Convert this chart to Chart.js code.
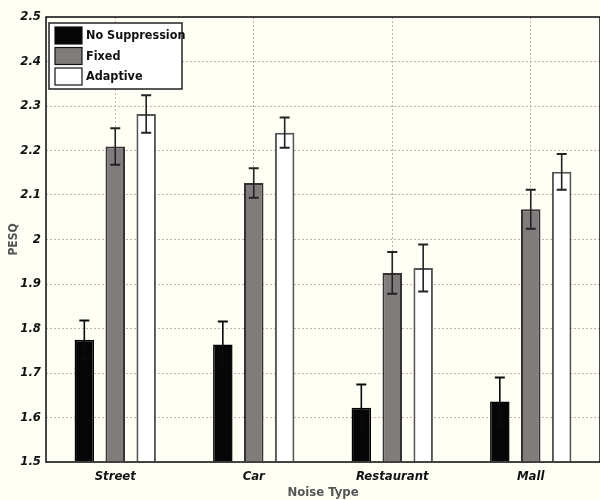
<!DOCTYPE html>
<html>
<head>
<meta charset="utf-8">
<script src="https://cdn.jsdelivr.net/npm/chart.js@4.4.0/dist/chart.umd.min.js"></script>
<style>
html, body { margin: 0; padding: 0; background: #fffff6; }
#wrap { width: 600px; height: 500px; }
</style>
</head>
<body>
<div id="wrap"><canvas id="myChart" width="600" height="500"></canvas></div>
<script>
// data
const categories = ["Street", "Car", "Restaurant", "Mall"];
const seriesNames = ["No Suppression", "Fixed", "Adaptive"];
const noSuppression = [1.775, 1.764, 1.622, 1.636];
const noSuppressionErr = [0.043, 0.052, 0.052, 0.054];
const fixed = [2.209, 2.127, 1.925, 2.068];
const fixedErr = [0.041, 0.033, 0.047, 0.044];
const adaptive = [2.282, 2.240, 1.936, 2.152];
const adaptiveErr = [0.042, 0.034, 0.053, 0.040];
const yMin = 1.5;
const yMax = 2.5;
const yStep = 0.1;

const FONT = '"Liberation Sans Narrow", "DejaVu Sans Condensed", "Liberation Sans", Arial, sans-serif';

// cream page + plot background
const bgPlugin = {
  id: "bg",
  beforeDraw(chart) {
    const ctx = chart.ctx;
    ctx.save();
    ctx.fillStyle = "#fffff6";
    ctx.fillRect(0, 0, chart.width, chart.height);
    ctx.restore();
  }
};

// error bars drawn from the err arrays through the y scale
const errorBarPlugin = {
  id: "errorBars",
  afterDatasetsDraw(chart) {
    const ctx = chart.ctx;
    const yScale = chart.scales.y;
    chart.data.datasets.forEach((ds, i) => {
      const meta = chart.getDatasetMeta(i);
      meta.data.forEach((bar, j) => {
        const v = ds.data[j];
        const e = ds.errors[j];
        const top = yScale.getPixelForValue(v + e);
        const bot = yScale.getPixelForValue(v - e);
        const x = bar.x;
        const hw = 5;
        ctx.save();
        ctx.strokeStyle = i === 0 ? "#0a0a0a" : "#222";
        ctx.lineWidth = 1.6;
        ctx.beginPath();
        ctx.moveTo(x, top);
        ctx.lineTo(x, bot);
        ctx.stroke();
        ctx.lineWidth = 2;
        ctx.beginPath();
        ctx.moveTo(x - hw, top);
        ctx.lineTo(x + hw, top);
        ctx.moveTo(x - hw, bot);
        ctx.lineTo(x + hw, bot);
        ctx.stroke();
        ctx.restore();
      });
    });
  }
};

// axes box and boxed legend like the matlab figure
const boxLegendPlugin = {
  id: "boxLegend",
  afterDraw(chart) {
    const ctx = chart.ctx;
    const a = chart.chartArea;
    ctx.save();
    ctx.strokeStyle = "#1a1a1a";
    ctx.lineWidth = 1.6;
    ctx.strokeRect(a.left, a.top, a.right - a.left, a.bottom - a.top);

    // legend
    const lx = a.left + 3, ly = a.top + 6, lw = 133, lh = 66;
    ctx.fillStyle = "#ffffff";
    ctx.fillRect(lx, ly, lw, lh);
    ctx.strokeStyle = "#222";
    ctx.lineWidth = 1.5;
    ctx.strokeRect(lx, ly, lw, lh);
    chart.data.datasets.forEach((ds, i) => {
      const ry = ly + 4 + i * 20.5;
      ctx.fillStyle = ds.backgroundColor;
      ctx.fillRect(lx + 6, ry, 27, 17);
      ctx.strokeStyle = "#111";
      ctx.lineWidth = 1.2;
      ctx.strokeRect(lx + 6, ry, 27, 17);
      ctx.fillStyle = "#111";
      ctx.font = "bold 12.5px " + FONT;
      ctx.textBaseline = "middle";
      ctx.textAlign = "left";
      ctx.fillText(ds.label, lx + 37, ry + 9);
    });
    ctx.restore();
  }
};

const ctx = document.getElementById("myChart").getContext("2d");
const chart = new Chart(ctx, {
  type: "bar",
  data: {
    labels: categories,
    datasets: [
      {
        label: seriesNames[0],
        data: noSuppression,
        errors: noSuppressionErr,
        backgroundColor: "#060606",
        borderColor: "#000000",
        borderWidth: 1.5
      },
      {
        label: seriesNames[1],
        data: fixed,
        errors: fixedErr,
        backgroundColor: "#807c7c",
        borderColor: "#333333",
        borderWidth: 2
      },
      {
        label: seriesNames[2],
        data: adaptive,
        errors: adaptiveErr,
        backgroundColor: "#ffffff",
        borderColor: "#555555",
        borderWidth: 2
      }
    ]
  },
  options: {
    responsive: false,
    animation: false,
    devicePixelRatio: 1,
    layout: { padding: { top: 17, right: 0, left: 0, bottom: 0 } },
    datasets: {
      bar: {
        categoryPercentage: 0.67,
        barPercentage: 0.63,
        base: yMin,
        borderSkipped: "bottom"
      }
    },
    plugins: {
      legend: { display: false },
      tooltip: { enabled: false }
    },
    scales: {
      x: {
        grid: {
          offset: false,
          color: "#c4b0b0",
          lineWidth: 1,
          drawTicks: false
        },
        border: { display: false, dash: [2, 2] },
        ticks: {
          color: "#111",
          padding: 7,
          autoSkip: false,
          maxRotation: 0,
          minRotation: 0,
          font: { family: FONT, size: 13, weight: "bold", style: "italic" }
        },
        title: {
          display: true,
          text: "Noise Type",
          color: "#555",
          padding: { top: 0, bottom: 0 },
          font: { family: FONT, size: 13, weight: "bold" }
        },
        afterFit(scale) { scale.height = 38; }
      },
      y: {
        min: yMin,
        max: yMax,
        grid: {
          color: "#c4b0b0",
          lineWidth: 1,
          drawTicks: false
        },
        border: { display: false, dash: [2, 2] },
        ticks: {
          stepSize: yStep,
          autoSkip: false,
          color: "#111",
          padding: 5,
          font: { family: FONT, size: 13, weight: "bold", style: "italic" },
          callback: (v) => String(Number(v.toFixed(1)))
        },
        title: {
          display: true,
          text: "PESQ",
          color: "#555",
          padding: { top: 7, bottom: 0 },
          font: { family: FONT, size: 12, weight: "bold" }
        },
        afterFit(scale) { scale.width = 46; }
      }
    }
  },
  plugins: [bgPlugin, errorBarPlugin, boxLegendPlugin]
});
</script>
</body>
</html>
